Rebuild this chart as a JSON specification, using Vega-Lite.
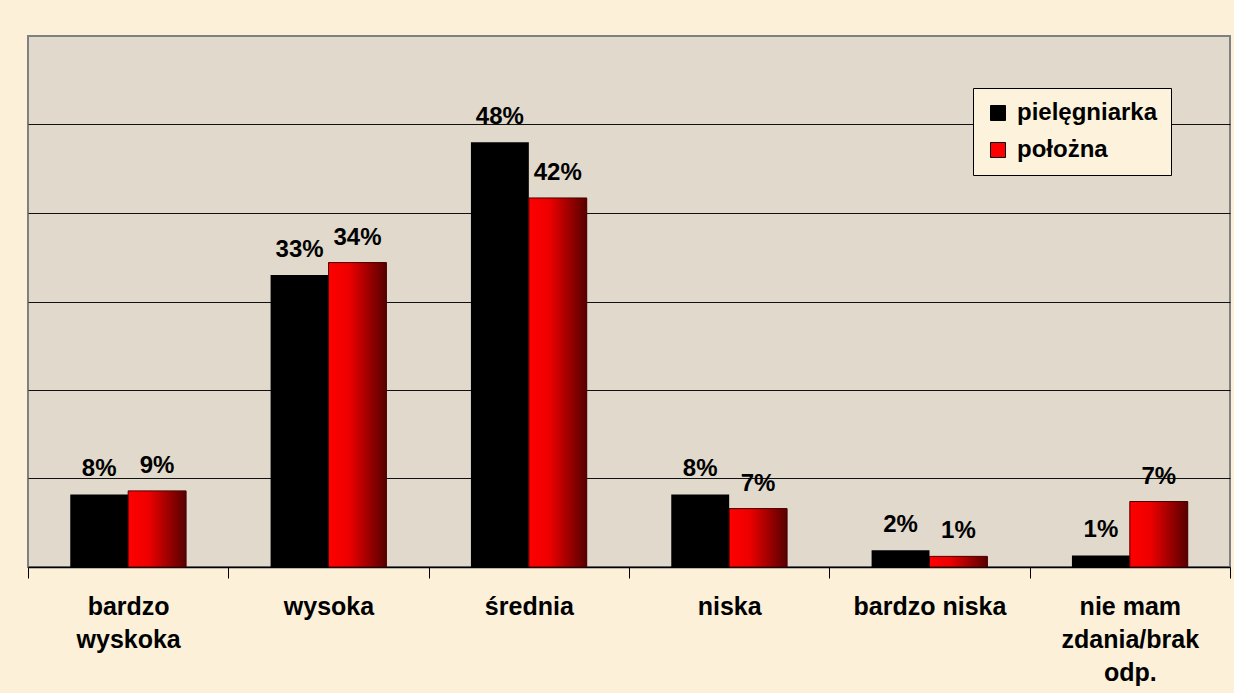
{
  "$schema": "https://vega.github.io/schema/vega-lite/v6.json",
  "autosize": {"type": "none"},
  "width": 1202,
  "height": 531,
  "padding": {"left": 28, "top": 36, "right": 4, "bottom": 126},
  "background": "#fcf0d9",
  "config": {
    "view": {"fill": "#e0d9cc", "stroke": "#808080", "strokeWidth": 2},
    "font": "Liberation Sans"
  },
  "data": {
    "values": [
      {"kat": "bardzo|wyskoka", "seria": "pielęgniarka", "v": 0.082},
      {"kat": "bardzo|wyskoka", "seria": "położna", "v": 0.086},
      {"kat": "wysoka", "seria": "pielęgniarka", "v": 0.330},
      {"kat": "wysoka", "seria": "położna", "v": 0.344},
      {"kat": "średnia", "seria": "pielęgniarka", "v": 0.480},
      {"kat": "średnia", "seria": "położna", "v": 0.417},
      {"kat": "niska", "seria": "pielęgniarka", "v": 0.082},
      {"kat": "niska", "seria": "położna", "v": 0.066},
      {"kat": "bardzo niska", "seria": "pielęgniarka", "v": 0.019},
      {"kat": "bardzo niska", "seria": "położna", "v": 0.012},
      {"kat": "nie mam|zdania/brak|odp.", "seria": "pielęgniarka", "v": 0.013},
      {"kat": "nie mam|zdania/brak|odp.", "seria": "położna", "v": 0.074}
    ]
  },
  "encoding": {
    "x": {
      "field": "kat", "type": "nominal", "sort": null, "title": null,
      "scale": {"paddingInner": 0, "paddingOuter": 0},
      "axis": {
        "labelExpr": "split(datum.label, '|')",
        "labelAngle": 0,
        "labelFontSize": 25,
        "labelFontWeight": "bold",
        "labelColor": "#000000",
        "labelLineHeight": 33,
        "labelPadding": 16,
        "labelLimit": 300,
        "tickBand": "extent",
        "tickColor": "#000000",
        "tickSize": 11,
        "domainColor": "#000000",
        "domainWidth": 1.5
      }
    },
    "xOffset": {"field": "seria", "type": "nominal", "scale": {"domain": ["pielęgniarka", "położna"], "paddingInner": 0, "paddingOuter": 0.73}},
    "y": {
      "field": "v", "type": "quantitative", "title": null,
      "scale": {"domain": [0, 0.6], "nice": false},
      "axis": {
        "labels": false, "ticks": false, "domain": false,
        "values": [0.1, 0.2, 0.3, 0.4, 0.5],
        "gridColor": "#111111", "gridWidth": 1.2, "gridOpacity": 1
      }
    }
  },
  "layer": [
    {
      "mark": {"type": "bar"},
      "encoding": {
        "color": {
          "field": "seria", "type": "nominal",
          "scale": {"domain": ["pielęgniarka", "położna"], "range": ["#000000", "#ff0000"]},
          "legend": {
            "title": null,
            "orient": "none",
            "legendX": 945,
            "legendY": 52,
            "fillColor": "#fdf3dc",
            "strokeColor": "#000000",
            "padding": 13,
            "symbolType": "square",
            "symbolSize": 225,
            "symbolStrokeColor": "#000000",
            "symbolStrokeWidth": 1,
            "labelFontSize": 24,
            "labelFontWeight": "bold",
            "labelColor": "#000000",
            "rowPadding": 13,
            "labelOffset": 7
          }
        }
      }
    },
    {
      "transform": [{"filter": "datum.seria === 'położna'"}],
      "mark": {
        "type": "bar",
        "stroke": "#4a0000",
        "strokeWidth": 1,
        "fill": {
          "gradient": "linear", "x1": 0, "y1": 0, "x2": 1, "y2": 0,
          "stops": [
            {"offset": 0, "color": "#ff0000"},
            {"offset": 0.35, "color": "#ee0000"},
            {"offset": 1, "color": "#560000"}
          ]
        }
      }
    },
    {
      "mark": {"type": "text", "baseline": "alphabetic", "dy": -18, "fontSize": 24, "fontWeight": "bold", "color": "#000000"},
      "encoding": {"text": {"field": "v", "type": "quantitative", "format": ".0%"}}
    }
  ]
}
